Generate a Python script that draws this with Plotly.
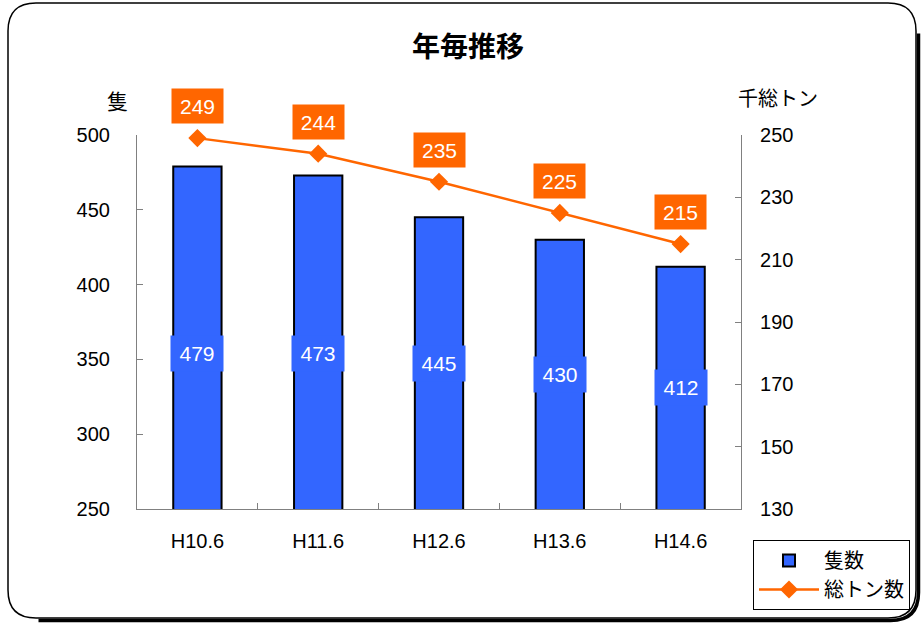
import plotly.graph_objects as go

# ---- data ----
categories = ["H10.6", "H11.6", "H12.6", "H13.6", "H14.6"]
ships = [479, 473, 445, 430, 412]          # 隻数 (left axis)
tonnage = [249, 244, 235, 225, 215]        # 総トン数 (千総トン, right axis)
left_ticks = [250, 300, 350, 400, 450, 500]
right_ticks = [130, 150, 170, 190, 210, 230, 250]

# ---- layout geometry (pixels) ----
W, H = 921, 624
L, R, T, B = 137, 741, 135, 509
PW, PH = R - L, B - T


def px(x):
    return (x - L) / PW


def py(y):
    return (B - y) / PH


FONT = "Liberation Sans, Arial, Noto Sans CJK JP, sans-serif"
CJK = "Noto Sans CJK JP, sans-serif"
BLUE = "#3366FF"
ORANGE = "#FF6600"

fig = go.Figure()
fig.add_trace(go.Bar(
    x=categories, y=ships, name="隻数",
    marker=dict(color=BLUE, line=dict(color="black", width=2)),
    width=0.4, yaxis="y",
))
fig.add_trace(go.Scatter(
    x=categories, y=tonnage, name="総トン数", yaxis="y2",
    mode="lines+markers", cliponaxis=False,
    line=dict(color=ORANGE, width=2.5),
    marker=dict(symbol="diamond", size=14, color=ORANGE),
))

annotations = []
# bar value labels (blue boxes)
bar_label_shift = [-16, -11, 0, 0, 0]
for c, v, s in zip(categories, ships, bar_label_shift):
    annotations.append(dict(
        x=c, y=(left_ticks[0] + v) / 2, xref="x", yref="y", yshift=s,
        text=str(v), showarrow=False, bgcolor=BLUE, borderpad=2,
        width=48, height=31, font=dict(family=FONT, size=21, color="white"),
    ))
# line value labels (orange boxes)
for c, v in zip(categories, tonnage):
    annotations.append(dict(
        x=c, y=v, xref="x", yref="y2", yshift=32,
        text=str(v), showarrow=False, bgcolor=ORANGE, borderpad=2,
        width=47, height=30, font=dict(family=FONT, size=21, color="white"),
    ))
# title and axis titles
for text, cx, cy, size in [("<b>年毎推移</b>", 468, 45, 28),
                           ("隻", 117, 100, 21),
                           ("千総トン", 778, 97, 20)]:
    annotations.append(dict(x=px(cx), y=py(cy), xref="paper", yref="paper",
                            xanchor="center", yanchor="middle",
                            text=text, showarrow=False,
                            font=dict(family=CJK, size=size, color="black")))

# outer rounded frame + shadow
x0, y0, x1, y1, r = 8, 3, 916, 618, 28


def rr_path(x0, y0, x1, y1, r):
    return (f"M {px(x0 + r)},{py(y0)} L {px(x1 - r)},{py(y0)} "
            f"Q {px(x1)},{py(y0)} {px(x1)},{py(y0 + r)} "
            f"L {px(x1)},{py(y1 - r)} Q {px(x1)},{py(y1)} {px(x1 - r)},{py(y1)} "
            f"L {px(x0 + r)},{py(y1)} Q {px(x0)},{py(y1)} {px(x0)},{py(y1 - r)} "
            f"L {px(x0)},{py(y0 + r)} Q {px(x0)},{py(y0)} {px(x0 + r)},{py(y0)} Z")


d = 2.5
shadow = (f"M {px(x1 + d)},{py(y0 + r + d)} L {px(x1 + d)},{py(y1 - r + d)} "
          f"Q {px(x1 + d)},{py(y1 + d)} {px(x1 - r + d)},{py(y1 + d)} "
          f"L {px(x0 + r + d)},{py(y1 + d)}")
shapes = [
    dict(type="path", path=rr_path(x0, y0, x1, y1, r), xref="paper", yref="paper",
         line=dict(color="black", width=1.5), layer="below"),
    dict(type="path", path=shadow, xref="paper", yref="paper",
         line=dict(color="black", width=3.5), layer="below"),
]

fig.update_layout(
    width=W, height=H,
    margin=dict(l=L, r=W - R, t=T, b=H - B, autoexpand=False),
    paper_bgcolor="white", plot_bgcolor="rgba(0,0,0,0)",
    font=dict(family=FONT, size=20, color="black"),
    showlegend=True,
    legend=dict(x=px(753), y=py(540), xanchor="left", yanchor="top",
                bordercolor="black", borderwidth=1, bgcolor="white",
                font=dict(family=CJK, size=20),
                itemwidth=60, tracegroupgap=0),
    xaxis=dict(type="category", range=[-0.5, 4.5], showline=True,
               linecolor="#808080", linewidth=1.2, ticks="inside",
               tickson="boundaries", ticklen=6, tickcolor="#808080",
               showgrid=False, ticklabelstandoff=14,
               tickfont=dict(family=FONT, size=20)),
    yaxis=dict(range=[left_ticks[0], left_ticks[-1]], tickvals=left_ticks,
               showline=True, linecolor="#808080", linewidth=1.2,
               ticks="inside", ticklen=6, tickcolor="#808080",
               showgrid=False, zeroline=False, ticklabelstandoff=22,
               tickfont=dict(family=FONT, size=20)),
    yaxis2=dict(range=[right_ticks[0], right_ticks[-1]], tickvals=right_ticks,
                overlaying="y", side="right",
                showline=True, linecolor="#808080", linewidth=1.2,
                ticks="inside", ticklen=6, tickcolor="#808080",
                showgrid=False, zeroline=False, ticklabelstandoff=14,
                tickfont=dict(family=FONT, size=20)),
    annotations=annotations,
    shapes=shapes,
    bargap=0.6,
)

fig.write_html("out.html", config={"displayModeBar": False},
               post_script="document.body.style.margin='0';document.body.style.overflow='hidden';")
